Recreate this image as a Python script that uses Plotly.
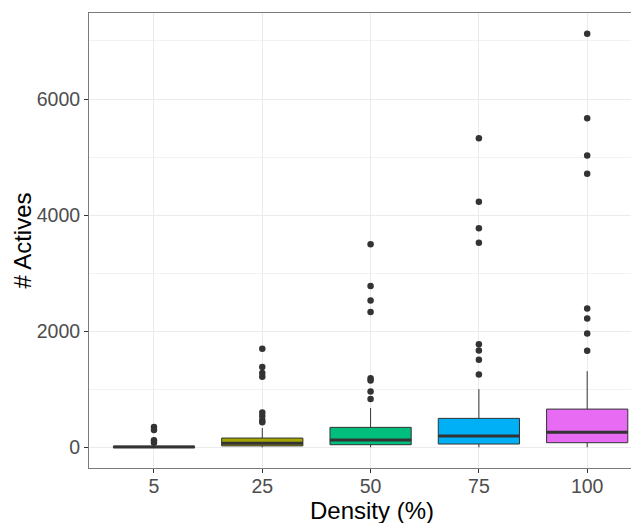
import plotly.graph_objects as go

categories = ["5", "25", "50", "75", "100"]
q1 = [0, 25, 45, 57, 80]
median = [5, 70, 125, 194, 258]
q3 = [20, 160, 344, 499, 659]
lower = [0, 0, 0, 0, 0]
upper = [45, 332, 676, 1003, 1312]
outliers = [
    [350, 300, 120, 80],
    [1700, 1385, 1280, 1215, 600, 540, 470, 430],
    [3500, 2780, 2530, 2330, 1190, 1150, 963, 832],
    [5325, 4230, 3772, 3526, 1777, 1668, 1507, 1256],
    [7126, 5669, 5028, 4713, 2390, 2219, 1961, 1662],
]
fills = ["#F8766D", "#A3A500", "#00BF7D", "#00B0F6", "#E76BF3"]

BOXW = 0.75
DARK = "#333333"
fig = go.Figure()
for i, cat in enumerate(categories):
    pos = i + 1
    fig.add_trace(go.Box(
        x=[pos], q1=[q1[i]], median=[median[i]], q3=[q3[i]],
        lowerfence=[lower[i]], upperfence=[upper[i]],
        width=BOXW, fillcolor=fills[i], line=dict(color=DARK, width=1),
        whiskerwidth=0, boxpoints=False, showlegend=False, hoverinfo="skip",
    ))
    fig.add_trace(go.Scatter(
        x=[pos - BOXW / 2, pos + BOXW / 2], y=[median[i], median[i]],
        mode="lines", line=dict(color=DARK, width=3), showlegend=False,
        hoverinfo="skip",
    ))
    fig.add_trace(go.Scatter(
        x=[pos] * len(outliers[i]), y=outliers[i], mode="markers",
        marker=dict(color=DARK, size=6.5), showlegend=False,
    ))

# page has an 8px body margin: figure is offset by (8, 8)
FONT = "Liberation Sans, Arial, sans-serif"
W, H = 631, 515
L, R, T, B = 81, 0, 5, 55
pw = W - L - R
ph = H - T - B
fig.update_layout(
    width=W, height=H,
    margin=dict(l=L, r=R, t=T, b=B),
    paper_bgcolor="white", plot_bgcolor="white",
    font=dict(family=FONT),
    xaxis=dict(
        range=[0.4, 0.4 + pw / 108.3], tickmode="array",
        tickvals=list(range(1, len(categories) + 1)), ticktext=categories,
        showgrid=True, gridcolor="#EBEBEB", gridwidth=1,
        zeroline=False, showline=True, linecolor="#7a7a7a", linewidth=1,
        mirror=True, ticks="outside", ticklen=4, tickcolor=DARK,
        ticklabelstandoff=-3,
        tickfont=dict(size=19.5, color="#4D4D4D"),
    ),
    yaxis=dict(
        range=[-356, 7482], tickmode="array", tickvals=[0, 2000, 4000, 6000],
        showgrid=True, gridcolor="#EBEBEB", gridwidth=1,
        minor=dict(tickvals=[1000, 3000, 5000, 7000], showgrid=True,
                   gridcolor="#F2F2F2", gridwidth=1),
        zeroline=False, showline=True, linecolor="#7a7a7a", linewidth=1,
        ticks="outside", ticklen=4, tickcolor=DARK,
        tickfont=dict(size=19.5, color="#4D4D4D"),
    ),
    annotations=[
        dict(text="# Actives", xref="paper", yref="paper",
             x=(14 - L) / pw, y=0.5,
             xanchor="center", yanchor="middle", textangle=-90,
             showarrow=False, font=dict(size=24, color="black", family=FONT)),
        dict(text="Density (%)", xref="paper", yref="paper",
             x=(364 - L) / pw, y=-(502 - (T + ph)) / ph,
             xanchor="center", yanchor="middle",
             showarrow=False, font=dict(size=24, color="black", family=FONT)),
    ],
)

fig.write_html("out.html")
